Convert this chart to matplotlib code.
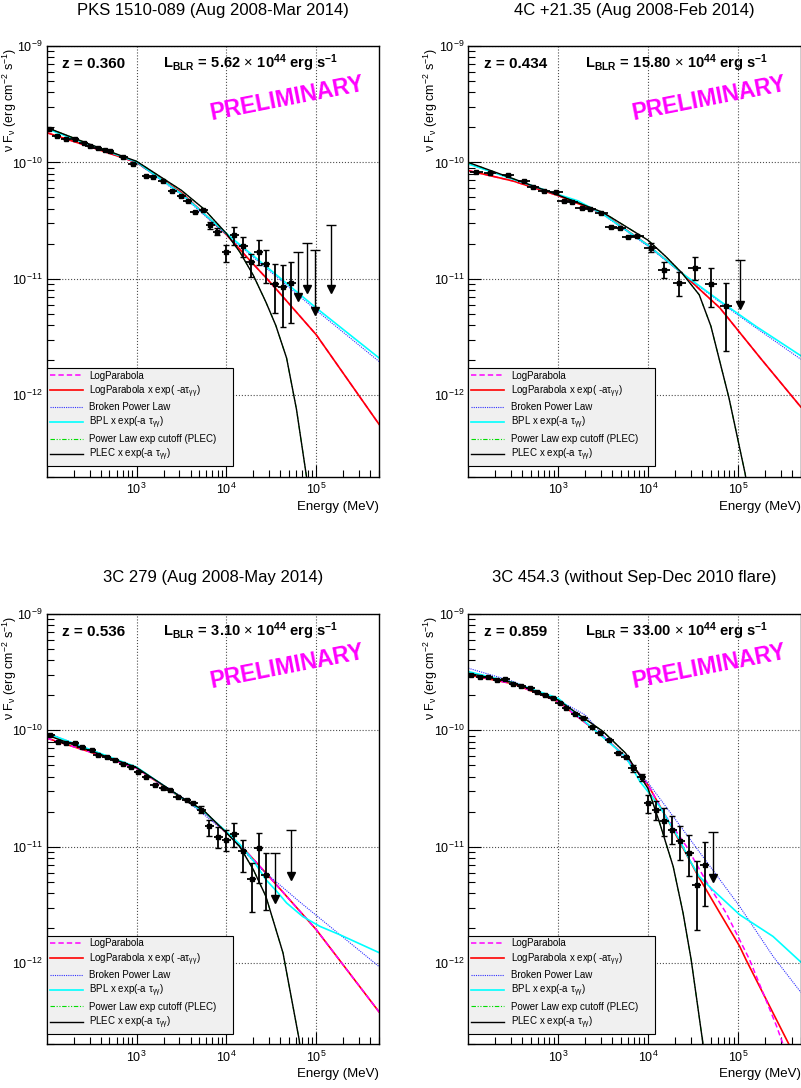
import matplotlib
matplotlib.use('Agg')
import numpy as np
import matplotlib.pyplot as plt
from matplotlib.ticker import LogLocator, NullFormatter

plt.rcParams['font.family'] = ['Liberation Sans', 'DejaVu Sans']
plt.rcParams['mathtext.fontset'] = 'custom'
plt.rcParams['mathtext.rm'] = 'Liberation Sans'
plt.rcParams['mathtext.it'] = 'Liberation Sans:italic'
plt.rcParams['mathtext.bf'] = 'Liberation Sans:bold'

# ---- panel texts ----
titles = ['PKS 1510-089 (Aug 2008-Mar 2014)', '4C +21.35 (Aug 2008-Feb 2014)',
          '3C 279 (Aug 2008-May 2014)', '3C 454.3 (without Sep-Dec 2010 flare)']
redshift = ['0.360', '0.434', '0.536', '0.859']
lblr = ['5.62', '15.80', '3.10', '33.00']
legend_labels = ['LogParabola',
                 r'LogParabola x exp( -a$\mathrm{τ}_{\mathrm{γγ}}$)',
                 'Broken Power Law',
                 r'BPL x exp(-a $\mathrm{τ}_{\mathrm{γγ}}$)',
                 'Power Law exp cutoff (PLEC)',
                 r'PLEC x exp(-a $\mathrm{τ}_{\mathrm{γγ}}$)']

# ---- data points: log10(E/MeV), log10(nuFnu), error down/up in dex ----
pks_E = [2.03, 2.11, 2.21, 2.31, 2.41, 2.48, 2.57, 2.65, 2.70, 2.85, 2.96, 3.11, 3.18, 3.29, 3.40,
         3.50, 3.57, 3.65, 3.74, 3.82, 3.90, 4.00, 4.09, 4.19, 4.27, 4.36, 4.44, 4.54, 4.63, 4.72]
pks_F = [-9.716, -9.773, -9.801, -9.801, -9.835, -9.858, -9.872, -9.892, -9.90, -9.949, -10.015,
         -10.114, -10.125, -10.157, -10.242, -10.285, -10.327, -10.424, -10.41, -10.54, -10.594,
         -10.773, -10.62, -10.72, -10.853, -10.767, -10.873, -11.043, -11.066, -11.037]
pks_dlo = [0, 0, 0, 0, 0, 0, 0, 0, 0, 0, 0, 0, 0, 0, 0, 0, 0, 0, 0, 0.03, 0.03,
           0.085, 0.09, 0.09, 0.13, 0.11, 0.16, 0.25, 0.35, 0.34]
pks_dhi = [0, 0, 0, 0, 0, 0, 0, 0, 0, 0, 0, 0, 0, 0, 0, 0, 0, 0, 0, 0.03, 0.03,
           0.068, 0.066, 0.08, 0.07, 0.10, 0.12, 0.17, 0.185, 0.18]
pks_ul_E = [4.80, 4.90, 4.99, 5.16]
pks_ul_top = [-10.767, -10.69, -10.754, -10.535]
pks_ul_tip = [-11.157, -11.089, -11.276, -11.089]

c4_E = [2.09, 2.24, 2.44, 2.62, 2.72, 2.84, 2.98, 3.06, 3.15, 3.26, 3.35, 3.48, 3.59, 3.69, 3.78,
        3.88, 4.03, 4.18, 4.35, 4.52, 4.70, 4.87]
c4_F = [-10.08, -10.091, -10.108, -10.157, -10.213, -10.242, -10.25, -10.327, -10.336, -10.392,
        -10.398, -10.435, -10.557, -10.563, -10.64, -10.631, -10.733, -10.924, -11.037, -10.904,
        -11.046, -11.236]
c4_dlo = [0, 0, 0, 0, 0, 0, 0, 0, 0, 0, 0, 0, 0, 0, 0, 0, 0.04, 0.071, 0.11, 0.105, 0.2, 0.38]
c4_dhi = [0, 0, 0, 0, 0, 0, 0, 0, 0, 0, 0, 0, 0, 0, 0, 0, 0.04, 0.072, 0.10, 0.094, 0.14, 0.2]
c4_ul_E = [5.02]
c4_ul_top = [-10.839]
c4_ul_tip = [-11.222]

c279_E = [2.04, 2.13, 2.22, 2.31, 2.39, 2.50, 2.57, 2.67, 2.76, 2.85, 2.94, 3.02, 3.11, 3.20, 3.30,
          3.37, 3.46, 3.56, 3.63, 3.72, 3.81, 3.91, 4.00, 4.09, 4.18, 4.28, 4.36, 4.44]
c279_F = [-10.039, -10.096, -10.105, -10.105, -10.144, -10.167, -10.21, -10.23, -10.253, -10.288,
          -10.316, -10.354, -10.397, -10.468, -10.496, -10.511, -10.573, -10.597, -10.62, -10.682,
          -10.826, -10.917, -10.94, -10.888, -11.04, -11.277, -11.011, -11.24]
c279_dlo = [0, 0, 0, 0, 0, 0, 0, 0, 0, 0, 0, 0, 0, 0, 0, 0, 0, 0, 0, 0.03,
            0.085, 0.094, 0.10, 0.11, 0.18, 0.28, 0.30, 0.30]
c279_dhi = [0, 0, 0, 0, 0, 0, 0, 0, 0, 0, 0, 0, 0, 0, 0, 0, 0, 0, 0, 0.03,
            0.058, 0.09, 0.086, 0.09, 0.10, 0.14, 0.13, 0.19]
c279_ul_E = [4.54, 4.72]
c279_ul_top = [-11.054, -10.854]
c279_ul_tip = [-11.446, -11.255]

c454_E = [2.03, 2.13, 2.22, 2.32, 2.41, 2.50, 2.59, 2.69, 2.76, 2.85, 2.94, 3.02, 3.09, 3.19, 3.28,
          3.38, 3.46, 3.57, 3.67, 3.75, 3.83, 3.93, 4.00, 4.09, 4.18, 4.27, 4.36, 4.46, 4.54, 4.63]
c454_F = [-9.524, -9.538, -9.543, -9.567, -9.561, -9.601, -9.618, -9.638, -9.667, -9.695, -9.724,
          -9.767, -9.81, -9.858, -9.895, -9.967, -10.019, -10.087, -10.196, -10.23, -10.324,
          -10.401, -10.624, -10.687, -10.781, -10.854, -10.954, -11.052, -11.326, -11.155]
c454_dlo = [0, 0, 0, 0, 0, 0, 0, 0, 0, 0, 0, 0, 0, 0, 0, 0, 0, 0, 0, 0, 0.03, 0.03,
            0.087, 0.081, 0.131, 0.12, 0.156, 0.2, 0.386, 0.357]
c454_dhi = [0, 0, 0, 0, 0, 0, 0, 0, 0, 0, 0, 0, 0, 0, 0, 0, 0, 0, 0, 0, 0.03, 0.03,
            0.07, 0.076, 0.113, 0.12, 0.128, 0.157, 0.2, 0.192]
c454_ul_E = [4.72]
c454_ul_top = [-10.877]
c454_ul_tip = [-11.27]

x_half = [0.05, 0.07, 0.05, 0.05]   # half bin width in dex

# ---- fitted model curves: (log10 E, log10 nuFnu) ----
pks_lp = [(2.0, -9.744), (2.5, -9.87), (3.0, -10.0), (3.5, -10.26), (3.75, -10.44), (4.0, -10.62),
          (4.26, -10.84), (4.5, -11.04), (5.0, -11.48), (5.7, -12.25)]
pks_lp_tau = pks_lp
pks_bpl = [(2.0, -9.71), (2.5, -9.855), (3.0, -10.0), (3.5, -10.28), (4.0, -10.62), (4.5, -10.945),
           (5.0, -11.27), (5.7, -11.71)]
pks_bpl_tau = [(2.0, -9.71), (2.5, -9.855), (3.0, -9.995), (3.5, -10.27), (4.0, -10.61), (4.5, -10.93),
               (5.0, -11.25), (5.7, -11.68)]
pks_plec = [(2.0, -9.70), (2.5, -9.85), (3.0, -9.99), (3.5, -10.24), (3.75, -10.40), (4.0, -10.61),
            (4.15, -10.77), (4.3, -10.97), (4.44, -11.2), (4.55, -11.4), (4.67, -11.68), (4.78, -12.12),
            (4.89, -12.69), (4.95, -13.0)]
pks_plec_tau = pks_plec

c4_lp = [(2.0, -10.07), (2.5, -10.16), (3.0, -10.285), (3.5, -10.44), (4.0, -10.711), (4.38, -10.952),
         (4.8, -11.25), (5.25, -11.68), (5.7, -12.1)]
c4_lp_tau = c4_lp
c4_bpl = [(2.0, -10.01), (2.5, -10.145), (3.0, -10.28), (3.22, -10.335), (3.5, -10.45), (4.0, -10.72),
          (4.38, -10.955), (4.8, -11.2), (5.2, -11.42), (5.7, -11.69)]
c4_bpl_tau = [(2.0, -10.013), (2.5, -10.145), (3.0, -10.275), (3.22, -10.33), (3.5, -10.445), (4.0, -10.711),
              (4.38, -10.952), (4.8, -11.19), (5.2, -11.407), (5.7, -11.66)]
c4_plec = [(2.0, -10.0), (2.5, -10.14), (3.0, -10.28), (3.5, -10.43), (4.0, -10.668), (4.2, -10.81),
           (4.38, -10.952), (4.57, -11.137), (4.7, -11.407), (4.9, -12.02), (5.08, -12.67), (5.15, -13.0)]
c4_plec_tau = c4_plec

c279_lp = [(2.0, -10.067), (2.5, -10.19), (3.0, -10.325), (3.5, -10.582), (3.75, -10.70), (4.0, -10.88),
           (4.22, -11.04), (4.44, -11.226), (5.0, -11.712), (5.7, -12.42)]
c279_lp_tau = c279_lp
c279_bpl = [(2.0, -10.02), (2.5, -10.17), (3.0, -10.32), (3.5, -10.57), (4.0, -10.88), (4.37, -11.18),
            (4.81, -11.47), (5.7, -12.03)]
c279_bpl_tau = [(2.0, -10.024), (2.5, -10.17), (3.0, -10.315), (3.5, -10.58), (3.75, -10.70), (4.0, -10.87),
                (4.15, -10.98), (4.3, -11.12), (4.44, -11.283), (4.56, -11.383), (4.67, -11.483),
                (4.85, -11.6), (5.04, -11.684), (5.26, -11.755), (5.7, -11.91)]
c279_plec = [(2.0, -10.04), (2.5, -10.18), (3.0, -10.32), (3.5, -10.575), (3.75, -10.69), (4.0, -10.88),
             (4.15, -11.0), (4.3, -11.197), (4.44, -11.427), (4.63, -11.912), (4.81, -12.657), (4.86, -13.0)]
c279_plec_tau = c279_plec

c454_lp = [(2.0, -9.524), (2.5, -9.6), (3.0, -9.753), (3.5, -10.053), (3.75, -10.225), (4.0, -10.47),
           (4.2, -10.74), (4.43, -11.0), (4.65, -11.3), (4.87, -11.57), (5.02, -11.8), (5.13, -11.97),
           (5.43, -12.54), (5.55, -12.8)]
c454_lp_tau = [(2.0, -9.524), (2.5, -9.6), (3.0, -9.753), (3.5, -10.053), (3.75, -10.225), (4.0, -10.47),
               (4.28, -10.854), (4.56, -11.255), (4.8, -11.57), (5.02, -11.856), (5.09, -11.97),
               (5.56, -12.685), (5.65, -12.83)]
c454_bpl = [(2.0, -9.466), (2.5, -9.58), (3.0, -9.74), (3.3, -9.867), (3.5, -10.04), (4.0, -10.45),
            (4.28, -10.74), (5.02, -11.513), (5.39, -11.94), (5.7, -12.25)]
c454_bpl_tau = [(2.0, -9.495), (2.5, -9.59), (3.0, -9.724), (3.5, -10.06), (3.75, -10.225), (3.91, -10.44),
                (4.13, -10.654), (4.35, -10.94), (4.46, -11.11), (4.57, -11.255), (4.72, -11.37),
                (5.02, -11.584), (5.39, -11.77), (5.7, -11.99)]
c454_plec = [(2.0, -9.51), (2.5, -9.59), (3.0, -9.74), (3.5, -10.01), (3.75, -10.196), (4.0, -10.5),
             (4.13, -10.797), (4.28, -11.17), (4.39, -11.57), (4.48, -11.97), (4.61, -12.685), (4.66, -13.0)]
c454_plec_tau = c454_plec

panels = [
    (pks_E, pks_F, pks_dlo, pks_dhi, pks_ul_E, pks_ul_top, pks_ul_tip,
     [pks_lp, pks_lp_tau, pks_bpl, pks_bpl_tau, pks_plec, pks_plec_tau]),
    (c4_E, c4_F, c4_dlo, c4_dhi, c4_ul_E, c4_ul_top, c4_ul_tip,
     [c4_lp, c4_lp_tau, c4_bpl, c4_bpl_tau, c4_plec, c4_plec_tau]),
    (c279_E, c279_F, c279_dlo, c279_dhi, c279_ul_E, c279_ul_top, c279_ul_tip,
     [c279_lp, c279_lp_tau, c279_bpl, c279_bpl_tau, c279_plec, c279_plec_tau]),
    (c454_E, c454_F, c454_dlo, c454_dhi, c454_ul_E, c454_ul_top, c454_ul_tip,
     [c454_lp, c454_lp_tau, c454_bpl, c454_bpl_tau, c454_plec, c454_plec_tau]),
]

# line styles of the six models
styles = [dict(color='#ff00ff', lw=1.1, dashes=(3.5, 2)),
          dict(color='#ff0000', lw=1.2),
          dict(color='#3030ff', lw=0.8, dashes=(1, 1)),
          dict(color='#00ffff', lw=1.2),
          dict(color='#00dd00', lw=0.8, dashes=(4, 1.5, 1, 1.5, 1, 1.5)),
          dict(color='#000000', lw=1.0)]
zorders = [2.2, 2.3, 2.4, 2.5, 2.6, 2.7]
lp_on_top = [False, False, True, True]

fig = plt.figure(figsize=(8.01, 10.88), dpi=100)
positions = [[0.0583, 0.5619, 0.4149, 0.3958], [0.5847, 0.5619, 0.4149, 0.3958],
             [0.0583, 0.0400, 0.4149, 0.3957], [0.5847, 0.0400, 0.4149, 0.3957]]

for i, (E, F, dlo, dhi, ulE, ulT, ulB, curves) in enumerate(panels):
    ax = fig.add_axes(positions[i])
    ax.set_xscale('log')
    ax.set_yscale('log')
    ax.set_xlim(100, 5e5)
    ax.set_ylim(2e-13, 1e-9)

    e = 10 ** np.array(E)
    f = 10 ** np.array(F)
    xh = x_half[i]
    ax.errorbar(e, f, xerr=[e - e * 10 ** -xh, e * 10 ** xh - e], fmt='none',
                ecolor='k', elinewidth=1.3, capsize=0, zorder=4)
    lo = f - f * 10 ** -np.array(dlo)
    hi = f * 10 ** np.array(dhi) - f
    ax.errorbar(e, f, yerr=[lo, hi], fmt='s', ms=3.2, color='k', ecolor='k',
                elinewidth=1.3, capsize=2, capthick=1.0, zorder=4)

    # upper limits
    ue = 10 ** np.array(ulE)
    ut = 10 ** np.array(ulT)
    ub = 10 ** np.array(ulB)
    ax.vlines(ue, ub, ut, color='k', lw=1.0, zorder=4)
    ax.plot(ue, ut, ls='none', marker='_', ms=7, mew=1.0, color='k', zorder=4)
    ax.plot(ue, ub, ls='none', marker='v', ms=5.5, color='k', zorder=4)

    handles = []
    for j, c in enumerate(curves):
        c = np.array(c)
        z = zorders[j]
        if j == 0 and lp_on_top[i]:
            z = 2.35
        ln, = ax.plot(10 ** c[:, 0], 10 ** c[:, 1], zorder=z, **styles[j])
        handles.append(ln)

    ax.grid(True, which='major', ls=':', color='0.3', lw=0.8)
    ax.set_xticks([1e3, 1e4, 1e5])
    ax.set_xticklabels([r'$10^{3}$', r'$10^{4}$', r'$10^{5}$'])
    ax.set_yticks([1e-12, 1e-11, 1e-10, 1e-9])
    ax.set_yticklabels([r'$10^{-12}$', r'$10^{-11}$', r'$10^{-10}$', r'$10^{-9}$'])
    ax.xaxis.set_minor_locator(LogLocator(base=10, subs=np.arange(2, 10), numticks=20))
    ax.yaxis.set_minor_locator(LogLocator(base=10, subs=np.arange(2, 10), numticks=20))
    ax.xaxis.set_minor_formatter(NullFormatter())
    ax.yaxis.set_minor_formatter(NullFormatter())
    ax.tick_params(which='both', direction='in', top=False, right=False, width=0.8, labelsize=9)
    ax.tick_params(which='major', length=9)
    ax.tick_params(which='minor', length=5)
    ax.tick_params(axis='x', pad=4)
    ax.tick_params(axis='y', pad=3)
    for sp in ax.spines.values():
        sp.set_linewidth(1.0)

    leg = ax.legend(handles, legend_labels, loc='lower left', bbox_to_anchor=(0, 0.025, 0.561, 0.214),
                    mode='expand', fontsize=7, frameon=True, fancybox=False, edgecolor='k',
                    facecolor='#f0f0f0', framealpha=1, handlelength=3.4, handletextpad=0.7,
                    borderpad=0.3, labelspacing=0.27, borderaxespad=0)
    leg.get_frame().set_linewidth(0.8)
    leg.set_zorder(5)

    ax.text(0.5, 1.0836, titles[i], ha='center', va='center', fontsize=12, transform=ax.transAxes)
    ax.text(0.046, 0.948, 'z = ' + redshift[i], ha='left', va='baseline', fontsize=11,
            fontweight='bold', transform=ax.transAxes)
    ax.text(0.35, 0.948, r'$\mathbf{L_{BLR}\,=\,%s}\,\times\,\mathbf{10^{44}\ erg\ s^{-1}}$' % lblr[i],
            ha='left', va='baseline', fontsize=10.5, transform=ax.transAxes)
    ax.text(0.723, 0.877, 'PRELIMINARY', color='#ff00ff', fontsize=16.5, fontweight='bold',
            rotation=11, ha='center', va='center', transform=ax.transAxes)
    ax.text(-0.112, 0.995, r'ν F$_{\mathrm{ν}}$ (erg cm$^{-2}$ s$^{-1}$)', rotation=90, ha='center',
            va='top', fontsize=9, transform=ax.transAxes)
    ax.text(1.0, -0.0697, 'Energy (MeV)', ha='right', va='center', fontsize=9.5, transform=ax.transAxes)

fig.savefig('out.png', dpi=100)
